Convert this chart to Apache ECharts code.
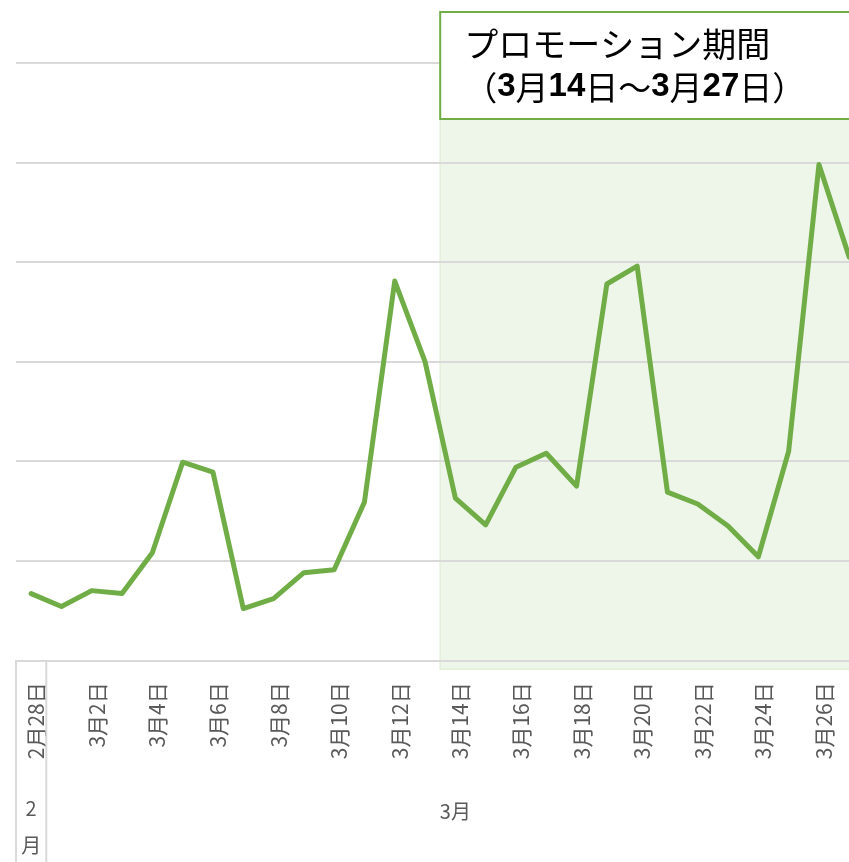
<!DOCTYPE html>
<html>
<head>
<meta charset="utf-8">
<script src="https://cdn.jsdelivr.net/npm/echarts@6/dist/echarts.min.js"></script>
<style>
html,body{margin:0;padding:0;background:#fff;overflow:hidden;width:849px;height:862px;}
#main{width:880px;height:862px;}
</style>
</head>
<body>
<div id="main"></div>
<script>
const dates = ['2月28日','3月1日','3月2日','3月3日','3月4日','3月5日','3月6日','3月7日','3月8日','3月9日','3月10日','3月11日','3月12日','3月13日','3月14日','3月15日','3月16日','3月17日','3月18日','3月19日','3月20日','3月21日','3月22日','3月23日','3月24日','3月25日','3月26日','3月27日'];
const values = [67,54,70,67,108,199,189,52,62,88,91,159,381,300,163,136,194,208,175,378,396,169,157,135,104,210,498,405];
const months = ['2\n月','3月'];
const monthSpans = [1,27];
const yMin = 0, yMax = 600, yStep = 100;
const promoStart = '3月14日', promoEnd = '3月27日';

const FONT = '"Noto Sans CJK JP", "Noto Sans", sans-serif';
const chart = echarts.init(document.getElementById('main'));
const option = {
  animation: false,
  backgroundColor: '#ffffff',
  grid: { left: 16, top: 63, width: 848.4, height: 597.3, containLabel: false },
  xAxis: {
    type: 'category',
    data: dates,
    boundaryGap: true,
    axisLine: { show: true, lineStyle: { color: '#d9d9d9', width: 2 } },
    axisTick: { show: false },
    axisLabel: {
      interval: 1, rotate: 90, margin: 22,
      color: '#595959', fontSize: 21, fontFamily: FONT,
      verticalAlign: 'top', lineHeight: 10
    },
    splitLine: { show: false }
  },
  yAxis: {
    type: 'value', min: yMin, max: yMax, interval: yStep,
    axisLabel: { show: false },
    axisLine: { show: false }, axisTick: { show: false },
    splitLine: { show: true, lineStyle: { color: '#d9d9d9', width: 2 } }
  },
  series: [{
    type: 'line',
    data: values,
    symbol: 'none',
    z: 5,
    lineStyle: { color: '#70AD47', width: 5, cap: 'round', join: 'round' }
  }]
};
chart.setOption(option);

const px = v => chart.convertToPixel({ xAxisIndex: 0 }, v);
const py = v => chart.convertToPixel({ yAxisIndex: 0 }, v);
const bw = px(dates[1]) - px(dates[0]);
const axisY = py(yMin);
const shadeL = px(promoStart) - bw / 2;
const shadeR = px(promoEnd) + bw / 2;

const graphics = [];
graphics.push({
  type: 'rect', z: -1, silent: true,
  shape: { x: shadeL, y: 12, width: shadeR - shadeL, height: axisY + 9 - 12 },
  style: { fill: '#EEF6E9', stroke: '#E2EFDA', lineWidth: 1.5 }
});
graphics.push({
  type: 'rect', z: 100, silent: true,
  shape: { x: shadeL, y: 12, width: shadeR - shadeL + 20, height: 107 },
  style: { fill: '#ffffff', stroke: '#70AD47', lineWidth: 2 }
});
graphics.push({
  type: 'text', z: 101, silent: true,
  x: shadeL + 24, y: 44,
  style: { text: 'プロモーション期間', font: '34px ' + FONT, fill: '#000', textVerticalAlign: 'middle', textAlign: 'left' }
});
graphics.push({
  type: 'text', z: 101, silent: true,
  x: shadeL + 24, y: 87,
  style: {
    text: '{n|（}{b|3}{n|月}{b|14}{n|日～}{b|3}{n|月}{b|27}{n|日）}',
    textVerticalAlign: 'middle', textAlign: 'left',
    rich: {
      n: { fontSize: 33, fontFamily: FONT, fill: '#000', color: '#000' },
      b: { fontSize: 33, fontFamily: '"Liberation Sans", Arial, sans-serif', fontWeight: 'bold', fill: '#000', color: '#000' }
    }
  }
});
// month level separators and labels
let idx = 0;
const bounds = [px(dates[0]) - bw / 2];
monthSpans.forEach(n => { idx += n; bounds.push(px(dates[idx - 1]) + bw / 2); });
bounds.forEach(bx => {
  graphics.push({
    type: 'line', z: 10, silent: true,
    shape: { x1: bx, y1: axisY, x2: bx, y2: 870 },
    style: { stroke: '#d9d9d9', lineWidth: 2 }
  });
});
months.forEach((m, i) => {
  const cx = (bounds[i] + bounds[i + 1]) / 2;
  const multi = m.indexOf('\n') >= 0;
  graphics.push({
    type: 'text', z: 10, silent: true,
    x: cx, y: multi ? 827 : 811,
    style: { text: m, font: '20px ' + FONT, fill: '#595959', textAlign: 'center', textVerticalAlign: 'middle', lineHeight: 37 }
  });
});
chart.setOption({ graphic: graphics });
</script>
</body>
</html>
